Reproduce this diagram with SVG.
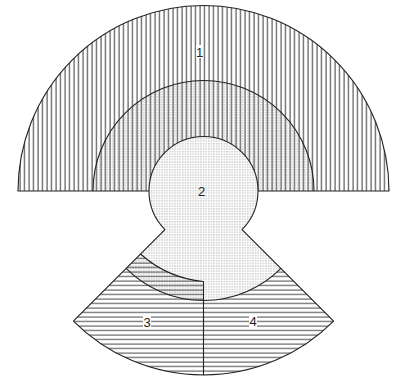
<svg xmlns="http://www.w3.org/2000/svg" width="398" height="378" viewBox="0 0 398 378">
<defs>
<pattern id="vh" width="4.5" height="10" patternUnits="userSpaceOnUse"><line x1="2" y1="0" x2="2" y2="10" stroke="#333" stroke-width="1"/></pattern>
<pattern id="hh" width="10" height="4.5" patternUnits="userSpaceOnUse"><line x1="0" y1="2" x2="10" y2="2" stroke="#444" stroke-width="1"/></pattern>
<pattern id="dots" width="2.6" height="2.6" patternUnits="userSpaceOnUse"><rect x="0.3" y="0.3" width="1" height="1" fill="#8c8c8c"/></pattern>
</defs>
<style>
.ol{fill:none;stroke:#222;stroke-width:1.1;stroke-linejoin:round}
.lab{font-family:"Liberation Sans",Arial,sans-serif;font-size:13px;fill:#222;text-anchor:middle}
.bg{fill:#fff}
</style>
<rect width="398" height="378" fill="#fff"/>
<g id="region1">
<path d="M18,191 A185.5,185.5 0 0 1 389,191 Z" fill="#fff"/>
<path d="M18,191 A185.5,185.5 0 0 1 389,191 Z" fill="url(#vh)"/>
<path d="M93,191 A110.5,110.5 0 0 1 314,191 Z" fill="url(#dots)"/>
</g>
<g id="region3-4-fill">
<path d="M203.5,191 L333.61,321.11 A184,184 0 0 1 73.39,321.11 Z" fill="#fff"/>
<path d="M203.5,191 L333.61,321.11 A184,184 0 0 1 73.39,321.11 Z" fill="url(#hh)"/>
</g>
<g id="region2">
<path d="M164.96,229.54 A54.5,54.5 0 1 1 242.04,229.54 L280.93,268.43 A109.5,109.5 0 0 1 126.07,268.43 Z" fill="#fff"/>
<path d="M164.96,229.54 A54.5,54.5 0 1 1 242.04,229.54 L280.93,268.43 A109.5,109.5 0 0 1 126.07,268.43 Z" fill="url(#dots)"/>
</g>
<g id="overlap">
<path d="M140.5,254 A110,110 0 0 0 203.5,281.5 L203.5,300.5 A109.5,109.5 0 0 1 126.07,268.43 Z" fill="url(#hh)"/>
</g>
<g id="outlines">
<path class="ol" d="M149,191 L18,191 A185.5,185.5 0 0 1 389,191 L258,191"/>
<path class="ol" d="M93,191 A110.5,110.5 0 0 1 314,191"/>
<path class="ol" d="M73.39,321.11 L164.96,229.54 A54.5,54.5 0 1 1 242.04,229.54 L333.61,321.11 A184,184 0 0 1 73.39,321.11"/>
<path class="ol" d="M280.93,268.43 A109.5,109.5 0 0 1 126.07,268.43"/>
<path class="ol" d="M140.5,254 A110,110 0 0 0 203.5,281.5 L203.5,375"/>
</g>
<g id="labels">
<rect class="bg" x="196" y="45" width="7" height="13"/>
<text class="lab" x="199.5" y="57">1</text>
<text class="lab" x="201.5" y="195.5">2</text>
<rect class="bg" x="143" y="315" width="8" height="13"/>
<text class="lab" x="147" y="327">3</text>
<rect class="bg" x="249" y="314" width="8" height="13"/>
<text class="lab" x="253" y="326">4</text>
</g>
</svg>
